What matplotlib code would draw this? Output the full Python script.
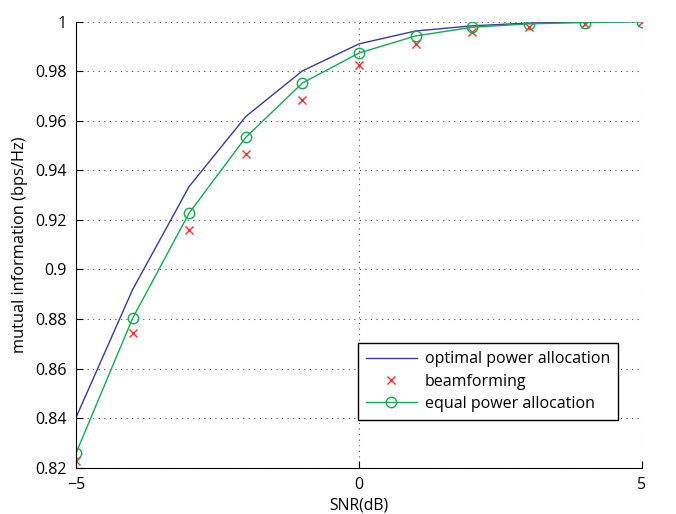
import matplotlib.pyplot as plt
import numpy as np

snr = [-5, -4, -3, -2, -1, 0, 1, 2, 3, 4, 5]
optimal = [0.8403, 0.8919, 0.9335, 0.9617, 0.9801, 0.9910, 0.9962, 0.9983, 0.9994, 0.9999, 1.0]
beamforming = [0.8226, 0.8745, 0.9161, 0.9466, 0.9682, 0.9826, 0.9909, 0.9956, 0.9980, 0.9991, 0.9997]
equal = [0.8259, 0.8803, 0.9228, 0.9533, 0.9752, 0.9873, 0.9942, 0.9977, 0.9991, 0.9996, 1.0]

yticks = [0.82, 0.84, 0.86, 0.88, 0.9, 0.92, 0.94, 0.96, 0.98, 1]
ytick_labels = ['0.82', '0.84', '0.86', '0.88', '0.9', '0.92', '0.94', '0.96', '0.98', '1']

plt.rcParams['font.family'] = ['Open Sans', 'DejaVu Sans']
fig = plt.figure(figsize=(6.76, 5.14), dpi=100)
ax = fig.add_axes([0.1125, 0.09, 0.837, 0.868])

ax.plot(snr, optimal, color='#3a3aa0', lw=1.0, label='optimal power allocation')
ax.plot(snr, beamforming, 'x', color='#ff3030', ms=6, mew=1.0, ls='none', label='beamforming')
ax.plot(snr, equal, '-o', color='#14aa50', lw=1.0, ms=7.5, mfc='none', mew=1.0, label='equal power allocation')

ax.set_xlim(-5, 5)
ax.set_ylim(0.82, 1)
ax.set_xticks([-5, 0, 5])
ax.set_xticklabels(['\u22125', '0', '5'])
ax.set_yticks(yticks)
ax.set_yticklabels(ytick_labels)
ax.grid(True, ls=(0, (1, 4)), color='k', lw=0.8, alpha=0.7)
ax.spines['top'].set_visible(False)
ax.spines['right'].set_visible(False)
ax.tick_params(direction='in', length=5, labelsize=11.5, pad=7)
ax.set_xlabel('SNR(dB)', fontsize=11.3, labelpad=3)
ax.set_ylabel('mutual information (bps/Hz)', fontsize=11.8, labelpad=5)

leg = ax.legend(loc='lower right', bbox_to_anchor=(0.958, 0.107), fontsize=11.5,
                fancybox=False, framealpha=1, edgecolor='k', borderpad=0.5,
                handlelength=3.2, handletextpad=0.5, labelspacing=0.4, numpoints=1,
                borderaxespad=0)
leg.get_frame().set_linewidth(1.0)

fig.savefig('out.png', dpi=100)
